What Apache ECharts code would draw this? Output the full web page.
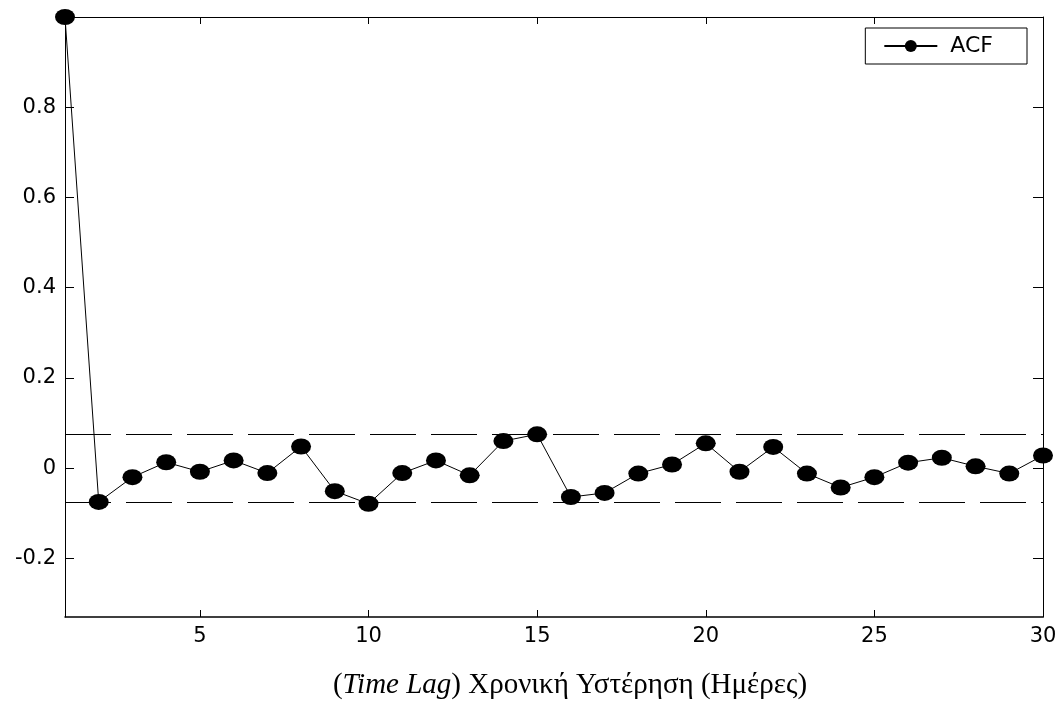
<!DOCTYPE html>
<html>
<head>
<meta charset="utf-8">
<title>ACF</title>
<script src="https://cdn.jsdelivr.net/npm/echarts@6/dist/echarts.min.js"></script>
<style>
  html, body { margin: 0; padding: 0; background: #fff; }
  #main { width: 1063px; height: 701px; }
</style>
</head>
<body>
<div id="main"></div>
<script>
// lags 1..30
const lags = [1, 2, 3, 4, 5, 6, 7, 8, 9, 10, 11, 12, 13, 14, 15,
  16, 17, 18, 19, 20, 21, 22, 23, 24, 25, 26, 27, 28, 29, 30]
// autocorrelation values
const acf = [1.0, -0.075, -0.02, 0.013, -0.008, 0.017, -0.011, 0.048, -0.051, -0.079,
  -0.011, 0.017, -0.016, 0.06, 0.075, -0.064, -0.055, -0.012, 0.008, 0.055,
  -0.008, 0.047, -0.012, -0.043, -0.02, 0.012, 0.023, 0.004, -0.012, 0.028]
// confidence bounds (dashed)
const confBound = 0.075
const xTicks = [5, 10, 15, 20, 25, 30]
const yTicks = [-0.2, 0, 0.2, 0.4, 0.6, 0.8]

const chart = echarts.init(document.getElementById('main'))

const axisFont = { fontFamily: 'DejaVu Sans', fontSize: 21, color: '#000' }
const boxLine = { show: true, onZero: false, lineStyle: { color: '#000', width: 1 } }

const option = {
  animation: false,
  backgroundColor: '#fff',
  grid: {
    left: 65, right: 20, top: 17, bottom: 84,
    outerBoundsMode: 'none'
  },
  legend: {
    data: ['ACF'],
    right: 36,
    top: 28,
    padding: [7, 34, 7, 18],
    borderColor: '#000',
    borderWidth: 1,
    itemWidth: 53,
    itemHeight: 15,
    itemGap: 16,
    textStyle: { fontFamily: 'DejaVu Sans', fontSize: 22, color: '#000', padding: [0, 0, 0, 8] }
  },
  xAxis: [
    {
      type: 'value',
      min: 1,
      max: 30,
      position: 'bottom',
      axisLine: { show: true, onZero: false, lineStyle: { color: '#000', width: 1.5 } },
      axisTick: { show: true, inside: true, length: 7, customValues: xTicks, lineStyle: { color: '#000' } },
      axisLabel: Object.assign({ customValues: xTicks, margin: 9 }, axisFont),
      splitLine: { show: false },
      name: '{n|(}{i|Time Lag}{n|) Χρονική Υστέρηση (Ημέρες)}',
      nameLocation: 'middle',
      nameGap: 54,
      nameTextStyle: {
        padding: [0, 0, 0, 32],
        rich: {
          i: { fontFamily: 'Liberation Serif', fontSize: 29, fontStyle: 'italic', color: '#000' },
          n: { fontFamily: 'Liberation Serif', fontSize: 29, color: '#000' }
        }
      }
    },
    {
      type: 'value',
      min: 1,
      max: 30,
      position: 'top',
      axisLine: boxLine,
      axisTick: { show: true, inside: true, length: 7, customValues: xTicks, lineStyle: { color: '#000' } },
      axisLabel: { show: false },
      splitLine: { show: false }
    }
  ],
  yAxis: [
    {
      type: 'value',
      min: -0.33,
      max: 1,
      position: 'left',
      axisLine: boxLine,
      axisTick: { show: true, inside: true, length: 9, customValues: yTicks, lineStyle: { color: '#000' } },
      axisLabel: Object.assign({ customValues: yTicks, margin: 9 }, axisFont),
      splitLine: { show: false }
    },
    {
      type: 'value',
      min: -0.33,
      max: 1,
      position: 'right',
      axisLine: boxLine,
      axisTick: { show: true, inside: true, length: 10, customValues: yTicks, lineStyle: { color: '#000' } },
      axisLabel: { show: false },
      splitLine: { show: false }
    }
  ],
  series: [
    {
      name: 'ACF',
      type: 'line',
      data: lags.map((l, i) => [l, acf[i]]),
      symbol: 'circle',
      symbolSize: [20, 16],
      clip: false,
      itemStyle: { color: '#000' },
      lineStyle: { color: '#000', width: 1 },
      markLine: {
        silent: true,
        symbol: 'none',
        precision: 3,
        label: { show: false },
        lineStyle: { color: '#000', width: 1, type: [46, 15] },
        data: [{ yAxis: confBound }, { yAxis: -confBound }]
      }
    }
  ]
}

chart.setOption(option)
</script>
</body>
</html>
